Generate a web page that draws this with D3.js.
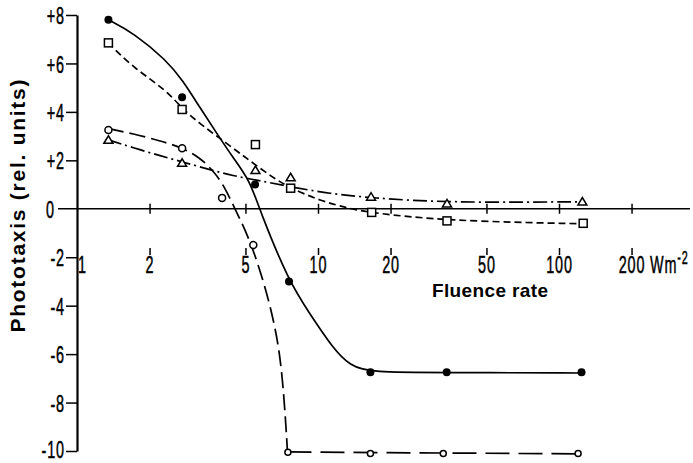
<!DOCTYPE html>
<html>
<head>
<meta charset="utf-8">
<script src="https://cdn.jsdelivr.net/npm/d3@7"></script>
<style>
  body { margin: 0; background: #fff; }
  svg { display: block; }
  .lbl { font-family: "Liberation Sans", Arial, sans-serif; font-weight: bold; fill: #000; }
</style>
</head>
<body>
<div id="chart"></div>
<script>
// measured points (fluence rate W m-2, phototaxis rel. units)
const filledX = [1.35, 2.73, 5.48, 7.58, 16.5, 34.2, 124];
const filledY = [7.8, 4.6, 1.0, -3.0, -6.75, -6.75, -6.75];
const squareX = [1.35, 2.73, 5.5, 7.7, 16.7, 34.3, 126];
const squareY = [6.85, 4.1, 2.65, 0.85, -0.15, -0.5, -0.6];
const triangleX = [1.35, 2.73, 5.5, 7.7, 16.6, 34.3, 125];
const triangleY = [2.85, 1.9, 1.6, 1.3, 0.5, 0.22, 0.3];
const circleX = [1.35, 2.73, 4.0, 5.39, 7.5, 16.5, 33.1, 120];
const circleY = [3.25, 2.5, 0.45, -1.5, -10.05, -10.1, -10.1, -10.1];

// hand-drawn fit curves
const filledFit = [[1.345, 7.81], [1.71, 7.27], [2.36, 6.12], [2.75, 5.29], [3.24, 4.17], [3.81, 3.1], [4.44, 2.11],
  [5.22, 1.16], [5.74, -0.08], [7.58, -3.02], [9.26, -4.34], [11.5, -5.74], [13.6, -6.49], [16.5, -6.76], [34.2, -6.76], [124, -6.78]];
const squareFit = [[1.345, 6.86], [1.71, 5.83], [2.36, 4.88], [2.73, 4.13], [3.24, 3.51], [4.19, 2.69], [5.22, 1.98],
  [6.51, 1.28], [7.65, 0.87], [10.2, 0.33], [13.6, 0.0], [16.75, -0.17], [34.3, -0.5], [126, -0.62]];
const triangleFit = [[1.345, 2.85], [1.71, 2.52], [2.21, 2.19], [2.73, 1.94], [3.46, 1.65], [4.44, 1.36], [5.74, 1.16],
  [7.65, 0.91], [11.2, 0.62], [16.6, 0.45], [34.3, 0.25], [126, 0.29]];
const circleFit = [[1.345, 3.31], [1.71, 3.1], [2.21, 2.81], [2.73, 2.52], [3.24, 2.11], [3.67, 1.57], [4.03, 1.03],
  [4.44, 0.17], [5.08, -1.03], [5.64, -2.27], [6.32, -3.93], [6.96, -5.87], [7.3, -8.35], [7.47, -10.04]];
const circleFlat = [[7.47, -10.04], [125, -10.12]];

const yTicks = [8, 6, 4, 2, 0, -2, -4, -6, -8, -10];
const xTicks = [2, 5, 10, 20, 50, 100, 200];

const width = 693, height = 463;
const squeeze = 0.6; // the figure's digits are very condensed

const numStyle = sel => sel
  .attr("font-family", "Liberation Sans, Arial, sans-serif")
  .attr("font-size", 24)
  .attr("letter-spacing", 1.5)
  .attr("fill", "#000")
  .attr("stroke", "#000")
  .attr("stroke-width", 0.5);

const svg = d3.select("#chart").append("svg")
  .attr("width", width)
  .attr("height", height);

const x = d3.scaleLog().domain([1, 1000]).range([77, 77 + 3 * 241]);
const y = d3.scaleLinear().domain([-10, 8]).range([451, 15]);

// zero line (x axis)
svg.append("line")
  .attr("x1", 58).attr("x2", 690)
  .attr("y1", y(0)).attr("y2", y(0))
  .attr("stroke", "#000").attr("stroke-width", 1.6);

// crosses on the zero line
const cross = svg.append("g")
  .attr("transform", "translate(0," + (y(0) - 5) + ")")
  .call(d3.axisBottom(x).tickValues(xTicks).tickSize(10).tickFormat(""));
cross.select(".domain").remove();
cross.selectAll(".tick line").attr("stroke-width", 1.5);

// x tick labels with small bars
const xLab = svg.append("g")
  .attr("transform", "translate(0,248)")
  .call(d3.axisBottom(x).tickValues([1].concat(xTicks)).tickSize(7).tickPadding(1).tickFormat(d3.format("d")));
xLab.select(".domain").remove();
xLab.selectAll(".tick line").attr("stroke-width", 1.5);
xLab.selectAll(".tick text").call(numStyle).attr("transform", "scale(" + squeeze + ",1)");
xLab.selectAll(".tick").filter(d => d === 1).each(function() {
  d3.select(this).select("line").remove();
  d3.select(this).select("text").attr("x", 5 / squeeze).attr("y", 8);
});

// units
const unit = svg.append("text").call(numStyle)
  .attr("transform", "scale(" + squeeze + ",1)")
  .attr("x", 650 / squeeze).attr("y", 273);
unit.append("tspan").text("Wm");
unit.append("tspan").attr("dy", -9).attr("font-size", 18).text("-2");

svg.append("text").attr("class", "lbl")
  .attr("x", 432).attr("y", 297)
  .attr("textLength", 116).attr("lengthAdjust", "spacing")
  .attr("font-size", 19)
  .text("Fluence rate");

// y axis
const yAxis = svg.append("g")
  .attr("transform", "translate(77,0)")
  .call(d3.axisLeft(y).tickValues(yTicks).tickSize(11).tickSizeOuter(0).tickPadding(1)
    .tickFormat(d => d > 0 ? "+" + d : String(d)));
yAxis.select(".domain").attr("stroke-width", 2.2);
yAxis.selectAll(".tick line").attr("stroke-width", 1.5);
yAxis.selectAll(".tick text").call(numStyle)
  .attr("transform", "scale(" + squeeze + ",1)")
  .attr("x", -12 / squeeze)
  .attr("dy", d => d === -10 ? "0.28em" : "0.36em");
yAxis.selectAll(".tick").filter(d => d === 0).each(function() {
  d3.select(this).select("line").remove();
  d3.select(this).select("text").attr("x", -22 / squeeze);
});

svg.append("text").attr("class", "lbl")
  .attr("transform", "translate(25,206) rotate(-90)")
  .attr("text-anchor", "middle")
  .attr("textLength", 253).attr("lengthAdjust", "spacing")
  .attr("font-size", 21)
  .text("Phototaxis (rel. units)");

// fitted curves
const line = d3.line()
  .x(d => x(d[0]))
  .y(d => y(d[1]))
  .curve(d3.curveBasis);

const curves = [
  { pts: filledFit, dash: null },
  { pts: squareFit, dash: "7,4" },
  { pts: triangleFit, dash: "14,4,2,4" },
  { pts: circleFit, dash: "16,6" },
  { pts: circleFlat, dash: "24,9" }
];

svg.selectAll("path.fit")
  .data(curves)
  .enter()
  .append("path")
  .attr("class", "fit")
  .attr("d", d => line(d.pts))
  .attr("fill", "none")
  .attr("stroke", "#000")
  .attr("stroke-width", 1.7)
  .attr("stroke-dasharray", d => d.dash);

// markers
svg.selectAll("circle.filled")
  .data(d3.zip(filledX, filledY))
  .enter()
  .append("circle")
  .attr("class", "filled")
  .attr("cx", d => x(d[0]))
  .attr("cy", d => y(d[1]))
  .attr("r", 4)
  .attr("fill", "#000");

svg.selectAll("rect.sq")
  .data(d3.zip(squareX, squareY))
  .enter()
  .append("rect")
  .attr("class", "sq")
  .attr("x", d => x(d[0]) - 4)
  .attr("y", d => y(d[1]) - 4)
  .attr("width", 8)
  .attr("height", 8)
  .attr("fill", "#fff")
  .attr("stroke", "#000")
  .attr("stroke-width", 1.5);

svg.selectAll("path.tri")
  .data(d3.zip(triangleX, triangleY))
  .enter()
  .append("path")
  .attr("class", "tri")
  .attr("d", d => {
    const cx = x(d[0]), cy = y(d[1]);
    return "M" + (cx - 4.5) + "," + (cy + 3.5) + "L" + cx + "," + (cy - 4) + "L" + (cx + 4.5) + "," + (cy + 3.5) + "Z";
  })
  .attr("fill", "#fff")
  .attr("stroke", "#000")
  .attr("stroke-width", 1.5);

svg.selectAll("circle.open")
  .data(d3.zip(circleX, circleY))
  .enter()
  .append("circle")
  .attr("class", "open")
  .attr("cx", d => x(d[0]))
  .attr("cy", d => y(d[1]))
  .attr("r", d => d[1] < -9 ? 3 : 3.5)
  .attr("fill", "#fff")
  .attr("stroke", "#000")
  .attr("stroke-width", 1.5);
</script>
</body>
</html>
